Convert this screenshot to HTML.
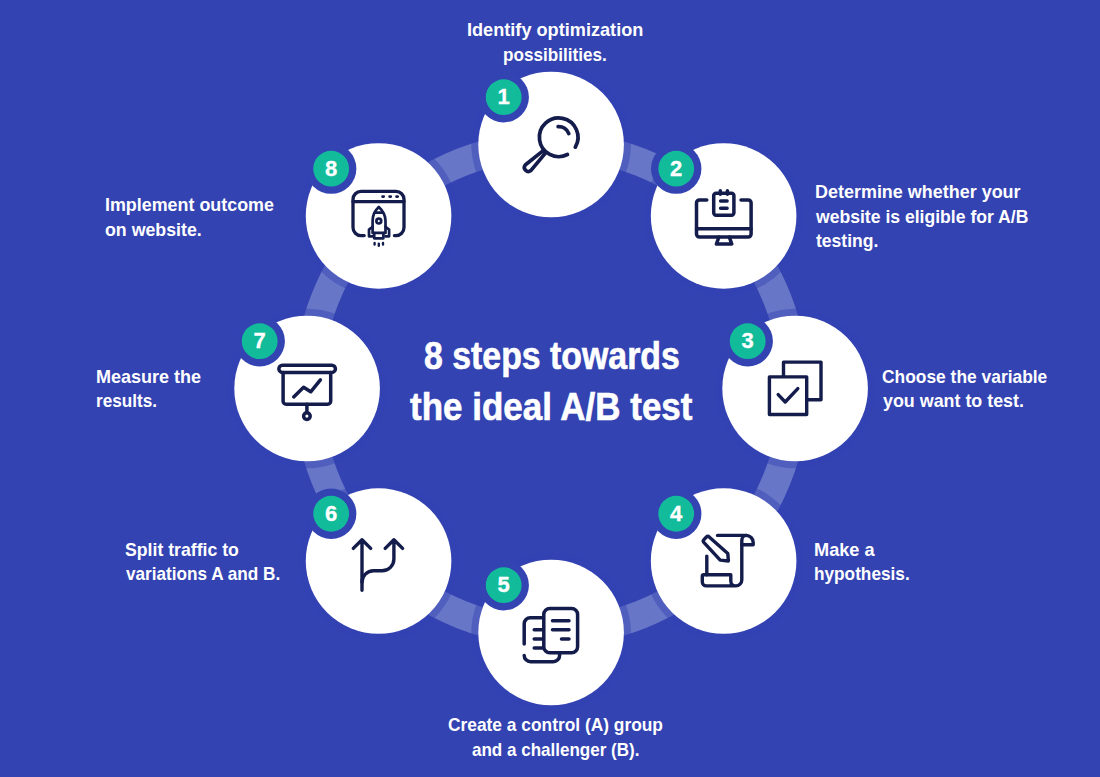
<!DOCTYPE html>
<html lang="en">
<head>
<meta charset="utf-8">
<title>8 steps towards the ideal A/B test</title>
<style>
html,body{margin:0;padding:0}
body{width:1100px;height:777px;overflow:hidden;background:#3343b2;font-family:"Liberation Sans",sans-serif;color:#fff}
.stage{position:relative;width:1100px;height:777px;overflow:hidden;background:#3343b2}
.art{position:absolute;left:0;top:0;display:block}
.lbl,.ttl{position:absolute;left:0;top:0;margin:0;font-weight:700}
.lbl{font-size:18.6px;line-height:24.4px}
.ttl{font-size:38.5px;line-height:51.0px;-webkit-text-stroke:0.6px #fff}
.lbl span,.ttl span{position:absolute;display:block;white-space:nowrap;transform-origin:0 0}
.num{position:absolute;width:36px;height:36px;line-height:35px;text-align:center;font-weight:700;font-size:22px;-webkit-text-stroke:0.3px #fff}
</style>
</head>
<body>
<div class="stage">
<svg class="art" width="1100" height="777" viewBox="0 0 1100 777">
<circle cx="551.1" cy="388.5" r="243.25" fill="none" stroke="#6876c8" stroke-width="28.5"/>
<circle cx="551.1" cy="144.5" r="79.8" fill="#3343b2" fill-opacity="0.45"/>
<circle cx="723.63" cy="215.97" r="79.8" fill="#3343b2" fill-opacity="0.45"/>
<circle cx="795.1" cy="388.5" r="79.8" fill="#3343b2" fill-opacity="0.45"/>
<circle cx="723.63" cy="561.03" r="79.8" fill="#3343b2" fill-opacity="0.45"/>
<circle cx="551.1" cy="632.5" r="79.8" fill="#3343b2" fill-opacity="0.45"/>
<circle cx="378.57" cy="561.03" r="79.8" fill="#3343b2" fill-opacity="0.45"/>
<circle cx="307.1" cy="388.5" r="79.8" fill="#3343b2" fill-opacity="0.45"/>
<circle cx="378.57" cy="215.97" r="79.8" fill="#3343b2" fill-opacity="0.45"/>
<circle cx="551.1" cy="144.5" r="72.8" fill="#fff"/>
<circle cx="723.63" cy="215.97" r="72.8" fill="#fff"/>
<circle cx="795.1" cy="388.5" r="72.8" fill="#fff"/>
<circle cx="723.63" cy="561.03" r="72.8" fill="#fff"/>
<circle cx="551.1" cy="632.5" r="72.8" fill="#fff"/>
<circle cx="378.57" cy="561.03" r="72.8" fill="#fff"/>
<circle cx="307.1" cy="388.5" r="72.8" fill="#fff"/>
<circle cx="378.57" cy="215.97" r="72.8" fill="#fff"/>
<g fill="none" stroke="#131c4b" stroke-width="3.5" stroke-linecap="round" stroke-linejoin="round"><!-- 1 magnifier -->
<g stroke-width="3.7">
<path d="M567.46,154.5 A19.3,19.3 0 1 1 575.28,147.18"/>
<path d="M558.1,126.6 A10.7,10.7 0 0 1 568.8,133.6"/>
<path d="M543.2,150.6 L525.2,165 A4,4 0 0 0 530.8,170.6 L545.6,152.9"/>
</g>
<!-- 2 monitor -->
<g stroke-width="3.5">
<path d="M706.8,199.9 H699.5 a3,3 0 0 0 -3,3 V234.1 a3,3 0 0 0 3,3 H748.1 a3,3 0 0 0 3,-3 V202.9 a3,3 0 0 0 -3,-3 H741"/>
<path d="M696.5,228.8 H751.1"/>
<path d="M718.9,237.1 L716.4,244 H731.8 L729.3,237.1"/>
<rect x="713.7" y="193.2" width="20.2" height="22" rx="2.4"/>
<path d="M720.3,190.7 V194.3 M727.4,190.7 V194.3 M720.6,201 H727.1 M720.6,208.2 H727.1"/>
</g>
<!-- 3 checkbox squares -->
<g stroke-width="3.4">
<path d="M783.5,376.9 V362.1 H821 V399.8 H806.7" stroke-linecap="butt"/>
<rect x="769.4" y="376.9" width="37.3" height="37.6"/>
<path d="M778.2,394.6 L785.2,402 L797.8,388.6"/>
</g>
<!-- 4 scroll + pencil -->
<g stroke-width="3.4">
<path d="M717.5,535.4 H746.2 a7,7 0 0 1 7,7 V544.7 H741.8"/>
<path d="M746.8,535.4 a5,5 0 0 0 -5,5 V579.9 a6,6 0 0 1 -6,6 H706.3 a4,4 0 0 1 -4,-4 V576.3 a1.5,1.5 0 0 1 1.5,-1.5 H730.8 V581 a4.9,4.9 0 0 0 4.9,4.9"/>
<path d="M706.8,556.1 V574.8"/>
<path d="M709.2,536.9 L727.8,553.5 L728.4,561 L720.2,560.1 L703.8,542.3 Q702.6,541 703.9,539.7 L706.4,537 Q707.8,535.6 709.2,536.9 z"/>
</g>
<!-- 5 documents -->
<g stroke-width="3.5">
<rect x="543.8" y="608.4" width="33.8" height="44.4" rx="6"/>
<path d="M552.5,620.7 H569 M552.5,629.7 H569 M561.5,638.9 H569"/>
<path d="M542.2,617.7 H530.2 a6,6 0 0 0 -6,6 V644.1 M524.2,655.4 a6.3,6.3 0 0 0 6.3,6.3 H553.3 a6.3,6.3 0 0 0 6.3,-6.3 V654.4"/>
<path d="M534.2,629.7 H542.2 M534.2,638.9 H542.2 M534.2,648 H542.2"/>
</g>
<!-- 6 split arrows -->
<g stroke-width="3.4">
<path d="M362,590.3 V539.7 M353.3,548.4 L362,539.7 L370.7,548.4"/>
<path d="M393.9,539.7 V559 a11.8,11.8 0 0 1 -11.8,11.8 H373.5 a11.5,11.5 0 0 0 -11.5,11.5 M385.2,548.4 L393.9,539.7 L402.6,548.4"/>
</g>
<!-- 7 presentation -->
<g stroke-width="3.5">
<rect x="278.9" y="365.3" width="56.5" height="7.1" rx="3.5"/>
<path d="M283.1,372.4 V401.2 a3,3 0 0 0 3,3 H327.7 a3,3 0 0 0 3,-3 V372.4"/>
<path d="M293.7,396.9 L303.6,387.2 L310.7,391.8 L320.4,379.8"/>
<path d="M306.9,404.2 V412.5"/>
<circle cx="306.9" cy="416.1" r="3.3"/>
</g>
<!-- 8 rocket window -->
<g stroke-width="3.3">
<path d="M364.2,235.6 H361 a8,8 0 0 1 -8,-8 V199.4 a8,8 0 0 1 8,-8 H396 a8,8 0 0 1 8,8 V227.6 a8,8 0 0 1 -8,8 H394.4"/>
<path d="M353,201.6 H404"/>
<path d="M382.5,196.6 h1.2 M389.6,196.6 h1.2 M396.5,196.6 h1.2" stroke-width="2.7"/>
<g stroke-width="2.7">
<path d="M378.8,207 C374.2,211.2 372.6,216 372.6,221 V232.9 H385.5 V221 C385.5,216 383.4,211.2 378.8,207 z"/>
<path d="M374.8,212.6 H382.8"/>
<circle cx="378.8" cy="221.1" r="2.4"/>
<path d="M372.6,226.8 L369,229.6 V236.3 H372.6 M385.5,226.8 L389.1,229.6 V236.3 H385.5"/>
<path d="M374.2,233 V238.3 H383.4 V233"/>
<path d="M374.6,243 v1.6 M378.8,243.6 v2.2 M383,243 v1.6" stroke-width="2.4"/>
</g>
</g>
</g>
<circle cx="503.7" cy="97.2" r="25.2" fill="#3343b2"/>
<circle cx="503.7" cy="97.2" r="17.9" fill="#12bc9b"/>
<circle cx="676.23" cy="168.67" r="25.2" fill="#3343b2"/>
<circle cx="676.23" cy="168.67" r="17.9" fill="#12bc9b"/>
<circle cx="747.7" cy="341.2" r="25.2" fill="#3343b2"/>
<circle cx="747.7" cy="341.2" r="17.9" fill="#12bc9b"/>
<circle cx="676.23" cy="513.73" r="25.2" fill="#3343b2"/>
<circle cx="676.23" cy="513.73" r="17.9" fill="#12bc9b"/>
<circle cx="503.7" cy="585.2" r="25.2" fill="#3343b2"/>
<circle cx="503.7" cy="585.2" r="17.9" fill="#12bc9b"/>
<circle cx="331.17" cy="513.73" r="25.2" fill="#3343b2"/>
<circle cx="331.17" cy="513.73" r="17.9" fill="#12bc9b"/>
<circle cx="259.7" cy="341.2" r="25.2" fill="#3343b2"/>
<circle cx="259.7" cy="341.2" r="17.9" fill="#12bc9b"/>
<circle cx="331.17" cy="168.67" r="25.2" fill="#3343b2"/>
<circle cx="331.17" cy="168.67" r="17.9" fill="#12bc9b"/>
</svg>
<div class="lbl l1">
<span style="left:466.61px;top:18.26px;transform:scaleX(0.9755)">Identify optimization</span>
<span style="left:502.97px;top:42.66px;transform:scaleX(0.9213)">possibilities.</span>
</div>
<div class="lbl l2">
<span style="left:814.62px;top:180.36px;transform:scaleX(0.9658)">Determine whether your</span>
<span style="left:815.88px;top:204.76px;transform:scaleX(0.9456)">website is eligible for A/B</span>
<span style="left:815.52px;top:229.16px;transform:scaleX(0.9430)">testing.</span>
</div>
<div class="lbl l3">
<span style="left:881.8px;top:364.96px;transform:scaleX(0.9355)">Choose the variable</span>
<span style="left:882.5px;top:389.36px;transform:scaleX(0.9610)">you want to test.</span>
</div>
<div class="lbl l4">
<span style="left:814.11px;top:537.86px;transform:scaleX(0.9774)">Make a</span>
<span style="left:814.17px;top:562.26px;transform:scaleX(0.9260)">hypothesis.</span>
</div>
<div class="lbl l5">
<span style="left:447.51px;top:713.36px;transform:scaleX(0.9330)">Create a control (A) group</span>
<span style="left:471.66px;top:737.76px;transform:scaleX(0.9156)">and a challenger (B).</span>
</div>
<div class="lbl l6">
<span style="left:125.25px;top:538.06px;transform:scaleX(0.9502)">Split traffic to</span>
<span style="left:125.6px;top:562.46px;transform:scaleX(0.9234)">variations A and B.</span>
</div>
<div class="lbl l7">
<span style="left:95.92px;top:365.06px;transform:scaleX(0.9688)">Measure the</span>
<span style="left:95.97px;top:389.46px;transform:scaleX(0.9218)">results.</span>
</div>
<div class="lbl l8">
<span style="left:104.53px;top:193.46px;transform:scaleX(0.9616)">Implement outcome</span>
<span style="left:105.07px;top:217.86px;transform:scaleX(0.9551)">on website.</span>
</div>
<h1 class="ttl">
<span style="left:424.18px;top:329.96px;transform:scaleX(0.8792)">8 steps towards</span>
<span style="left:410.05px;top:380.76px;transform:scaleX(0.9085)">the ideal A/B test</span>
</h1>
<span class="num" style="left:485.7px;top:79.2px">1</span>
<span class="num" style="left:658.23px;top:150.67px">2</span>
<span class="num" style="left:729.7px;top:323.2px">3</span>
<span class="num" style="left:658.23px;top:495.73px">4</span>
<span class="num" style="left:485.7px;top:567.2px">5</span>
<span class="num" style="left:313.17px;top:495.73px">6</span>
<span class="num" style="left:241.7px;top:323.2px">7</span>
<span class="num" style="left:313.17px;top:150.67px">8</span>
</div>
</body>
</html>
